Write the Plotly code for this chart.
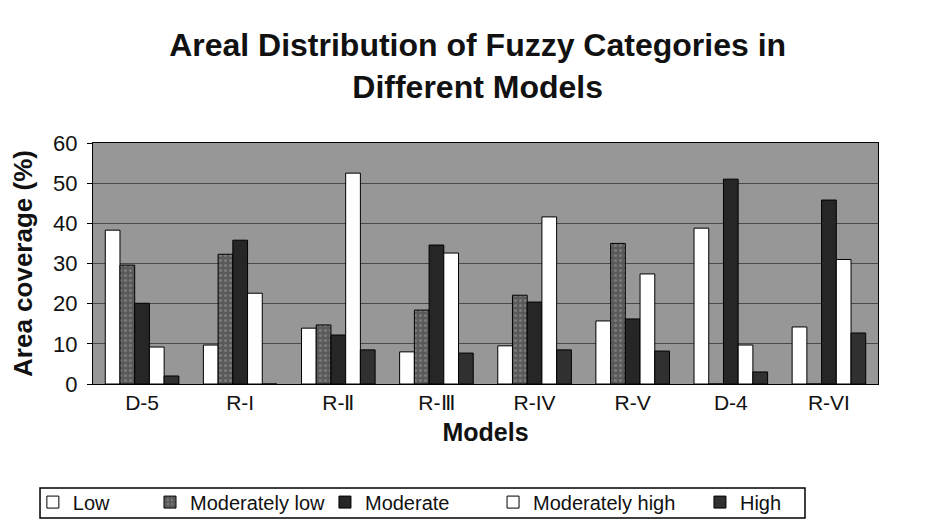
import plotly.graph_objects as go

models = ["D-5", "R-I", "R-Ⅱ", "R-Ⅲ", "R-IV", "R-V", "D-4", "R-VI"]
low = [38.3, 9.7, 13.9, 8.0, 9.5, 15.7, 38.8, 14.2]
moderately_low = [29.6, 32.3, 14.7, 18.4, 22.1, 35.0, 0, 0]
moderate = [20.1, 35.8, 12.2, 34.6, 20.4, 16.2, 51.0, 45.8]
moderately_high = [9.2, 22.6, 52.5, 32.6, 41.6, 27.4, 9.7, 31.0]
high = [2.0, 0, 8.5, 7.7, 8.5, 8.2, 3.0, 12.7]

series = [
    ("Low", low, "#ffffff", None, "legend"),
    ("Moderately low", moderately_low, "#5a5a5a", ".", "legend2"),
    ("Moderate", moderate, "#262626", None, "legend3"),
    ("Moderately high", moderately_high, "#ffffff", None, "legend4"),
    ("High", high, "#303030", None, "legend5"),
]

fig = go.Figure()
for name, vals, color, pat, leg in series:
    marker = dict(color=color, line=dict(color="#000000", width=1))
    if pat:
        marker["pattern"] = dict(shape=pat, fgcolor="#9a9a9a", bgcolor=color, size=5, solidity=0.3)
    fig.add_trace(go.Bar(name=name, x=models, y=vals, marker=marker, legend=leg))

fig.add_shape(
    type="rect", xref="paper", yref="paper",
    x0=-0.0675, x1=0.907, y0=-0.556, y1=-0.4315,
    line=dict(color="#000000", width=1.5), fillcolor="rgba(0,0,0,0)",
)

leg_x = [-0.0766, 0.0726, 0.2955, 0.5096, 0.7732]
leg_common = dict(
    orientation="h", xanchor="left", y=-0.49, yanchor="middle",
    borderwidth=0, bgcolor="rgba(0,0,0,0)",
    font=dict(size=20), itemwidth=30,
)

fig.update_layout(
    width=943, height=525,
    paper_bgcolor="white",
    plot_bgcolor="#979797",
    barmode="group",
    bargap=0.25,
    bargroupgap=0,
    margin=dict(l=85, r=73, t=135, b=149, autoexpand=False),
    font=dict(family="Liberation Sans, Arial", color="#111111"),
    title=dict(
        text="<b>Areal Distribution of Fuzzy Categories in<br>Different Models</b>",
        x=0.498, xanchor="center", y=0.908, yanchor="top",
        font=dict(size=32, color="#111111"),
    ),
    xaxis=dict(
        title=dict(text="<b>Models</b>", font=dict(size=25), standoff=10),
        tickfont=dict(size=21),
        showline=True, linecolor="#000000", linewidth=1, mirror=True,
        ticks="outside", ticklen=0,
    ),
    yaxis=dict(
        title=dict(text="<b>Area coverage (%)</b>", font=dict(size=26), standoff=16),
        range=[0, 60], dtick=10,
        tickfont=dict(size=22),
        ticklabelstandoff=5,
        showgrid=True, gridcolor="#4a4a4a", gridwidth=1,
        showline=True, linecolor="#000000", linewidth=1, mirror=True,
        ticks="outside", ticklen=5, tickcolor="#000000",
        zeroline=False,
    ),
    legend=dict(x=leg_x[0], **leg_common),
    legend2=dict(x=leg_x[1], **leg_common),
    legend3=dict(x=leg_x[2], **leg_common),
    legend4=dict(x=leg_x[3], **leg_common),
    legend5=dict(x=leg_x[4], **leg_common),
    showlegend=True,
)

fig.write_html("out.html")
